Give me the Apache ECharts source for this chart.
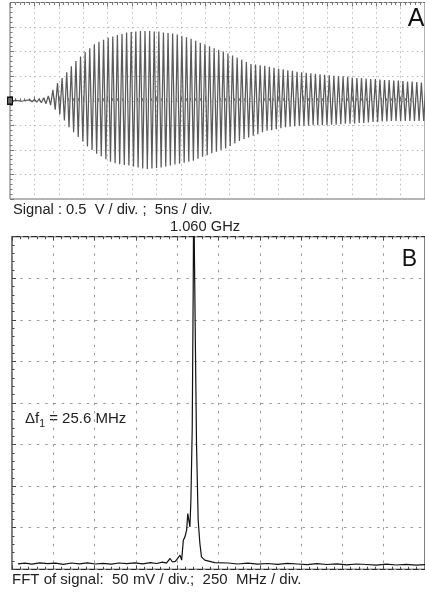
<!DOCTYPE html>
<html>
<head>
<meta charset="utf-8">
<script src="https://cdn.jsdelivr.net/npm/echarts@6/dist/echarts.min.js"></script>
<style>html,body{margin:0;padding:0;background:#fff;}#c{width:425px;height:595px;}</style>
</head>
<body>
<div id="c"></div>
<script>
// ---------- Panel A: time-domain signal (0.5 V/div, 5 ns/div) ----------
const signalFreqGHz = 1.060;               // carrier frequency (from FFT marker)
const burstStartNs = 4.07;                 // first visible cycle
const leadTimesNs = [0, 1.2, 2.4, 3.3];    // flat trace before the burst
const leadValuesV = [0, 0.01, -0.01, 0.01];
// positive peak of each cycle (V)
const sigTop = [0.02,0.03,0.04,0.06,0.10,0.22,0.36,0.46,0.58,0.70,
  0.81,0.90,0.99,1.07,1.15,1.20,1.24,1.28,1.31,1.34,
  1.36,1.39,1.40,1.41,1.42,1.42,1.42,1.41,1.41,1.39,
  1.38,1.37,1.35,1.32,1.29,1.26,1.22,1.18,1.15,1.11,
  1.07,1.04,1.00,0.96,0.92,0.88,0.84,0.79,0.75,0.74,
  0.72,0.71,0.69,0.67,0.65,0.64,0.62,0.61,0.59,0.58,
  0.57,0.56,0.55,0.54,0.53,0.52,0.51,0.50,0.50,0.49,
  0.47,0.46,0.46,0.45,0.44,0.44,0.43,0.42,0.42,0.41,
  0.41,0.40,0.39,0.39,0.38,0.37,0.37];
// negative trough of each cycle (V)
const sigBottom = [-0.02,-0.03,-0.04,-0.06,-0.09,-0.18,-0.28,-0.40,-0.54,-0.64,
  -0.74,-0.83,-0.93,-1.00,-1.08,-1.13,-1.19,-1.24,-1.27,-1.29,
  -1.31,-1.32,-1.34,-1.36,-1.38,-1.39,-1.38,-1.37,-1.36,-1.34,
  -1.32,-1.30,-1.28,-1.26,-1.24,-1.22,-1.18,-1.14,-1.11,-1.07,
  -1.04,-1.00,-0.97,-0.92,-0.87,-0.82,-0.78,-0.75,-0.71,-0.68,
  -0.64,-0.61,-0.60,-0.58,-0.56,-0.54,-0.53,-0.52,-0.51,-0.51,
  -0.51,-0.50,-0.50,-0.50,-0.50,-0.49,-0.49,-0.48,-0.47,-0.47,
  -0.46,-0.45,-0.45,-0.44,-0.43,-0.43,-0.42,-0.42,-0.41,-0.41,
  -0.41,-0.41,-0.41,-0.41,-0.41,-0.41,-0.41];

// ---------- Panel B: FFT (50 mV/div, 250 MHz/div) ----------
const fftFreqMHz = [36,78,120,168,216,264,312,360,408,456,504,552,600,647,695,743,791,839,875,911,935,
  957,971,989,1017,1027,1037,1047,1057,1064,1071,1077,1083,1091,1097,1100,1104,1109,1117,1127,1137,1147,1167,1227,1307,
  1367,1427,1487,1547,1607,1667,1727,1787,1846,1906,1966,2026,2086,2146,2206,2266,2326,2386,2446,2506];
const fftAmpMV = [6.5,7.5,6.2,7.8,6.8,7.4,6.0,7.6,6.6,7.8,6.4,7.2,6.2,7.6,6.8,7.8,6.6,8.0,7.0,8.6,7.4,
  13,8.8,9.5,17,11,35,39,47,67,69,51,83,170,340,460,460,290,150,59,31.6,15,11,8,7.6,
  6.4,7.4,6.2,7.0,6.0,7.2,6.4,5.6,6.8,5.8,6.6,5.4,6.4,5.8,5.0,6.2,5.2,6.0,5.0,5.6];

// tick scales
const voltDiv = 0.5, nsDiv = 5, mvDiv = 50, mhzDiv = 250;

// ---------- build series data ----------
const periodNs = 1 / signalFreqGHz;
const sigData = leadTimesNs.map((t, i) => [t, leadValuesV[i]]);
sigTop.forEach((v, i) => {
  const t = burstStartNs + i * periodNs;
  sigData.push([t, v]);
  sigData.push([t + periodNs / 2, sigBottom[i]]);
});
const fftData = fftFreqMHz.map((f, i) => [f, fftAmpMV[i]]);

const FONT = 'Liberation Sans, Arial, sans-serif';
function frameAxis(gridIndex, pos, showSplit, color, splitColor, dash) {
  return {
    type: 'value', gridIndex, position: pos,
    axisLine: { show: false }, axisLabel: { show: false },
    axisTick: { show: true, inside: true, length: 4, lineStyle: { color } },
    minorTick: { show: true, splitNumber: 5, length: 2.5, lineStyle: { color } },
    splitLine: { show: showSplit, lineStyle: { color: splitColor, type: dash, width: 1 } },
    minorSplitLine: { show: false }
  };
}

const chart = echarts.init(document.getElementById('c'), null, { renderer: 'canvas' });
const gridA = { left: 10, top: 2.5, width: 418.2, height: 196.5, show: true, borderColor: '#666', borderWidth: 1, backgroundColor: 'transparent' };
const gridB = { left: 12, top: 236.7, width: 417, height: 332.6, show: true, borderColor: '#2a2a2a', borderWidth: 1.2, backgroundColor: 'transparent' };

const xA = Object.assign(frameAxis(0, 'bottom', true, '#777', '#bbb', [1.5, 3.4]), { min: 0, max: 17 * nsDiv, interval: nsDiv });
const xAt = Object.assign(frameAxis(0, 'top', false, '#777', '#bbb', [1.5, 3.4]), { min: 0, max: 17 * nsDiv, interval: nsDiv });
const xB = Object.assign(frameAxis(1, 'bottom', true, '#444', '#999', [2.5, 5.8]), { min: 0, max: 10 * mhzDiv, interval: mhzDiv });
const xBt = Object.assign(frameAxis(1, 'top', false, '#444', '#999', [2.5, 5.8]), { min: 0, max: 10 * mhzDiv, interval: mhzDiv });
const yA = Object.assign(frameAxis(0, 'left', true, '#777', '#bbb', [1.5, 3.4]), { min: -4 * voltDiv, max: 4 * voltDiv, interval: voltDiv });
const yB = Object.assign(frameAxis(1, 'left', true, '#444', '#999', [2.5, 5.8]), { min: 0, max: 8 * mvDiv, interval: mvDiv });

chart.setOption({
  animation: false,
  grid: [gridA, gridB],
  xAxis: [xA, xAt, xB, xBt],
  yAxis: [yA, yB],
  series: [
    {
      type: 'line', xAxisIndex: 0, yAxisIndex: 0, data: sigData,
      showSymbol: false, smooth: false, sampling: null,
      lineStyle: { color: '#5a5a5a', width: 1.25 },
      markPoint: {
        symbol: 'rect', symbolSize: [5, 7], silent: true,
        itemStyle: { color: '#666', borderColor: '#111', borderWidth: 1.2 },
        label: { show: false },
        data: [{ coord: [0, 0] }]
      }
    },
    {
      type: 'line', xAxisIndex: 2, yAxisIndex: 1, data: fftData,
      showSymbol: false, smooth: false, clip: true,
      lineStyle: { color: '#111', width: 1.2 }
    }
  ],
  graphic: [
    { type: 'text', style: { text: 'A', x: 416, y: 19, font: '25px ' + FONT, fill: '#111', align: 'center', verticalAlign: 'middle' } },
    { type: 'text', style: { text: 'B', x: 409.5, y: 260, font: '23px ' + FONT, fill: '#111', align: 'center', verticalAlign: 'middle' } },
    { type: 'text', style: { text: 'Signal : 0.5  V / div. ;  5ns / div.', x: 13, y: 210, font: '14.7px ' + FONT, fill: '#222', align: 'left', verticalAlign: 'middle' } },
    { type: 'text', style: { text: '1.060 GHz', x: 205, y: 227, font: '14.7px ' + FONT, fill: '#222', align: 'center', verticalAlign: 'middle' } },
    { type: 'text', style: { text: 'FFT of signal:  50 mV / div.;  250  MHz / div.', x: 12, y: 580, font: '15px ' + FONT, fill: '#222', align: 'left', verticalAlign: 'middle' } },
    { type: 'text', style: {
        text: '{a|Δf}{s|1}{a| = 25.6 MHz}', x: 25, y: 419, align: 'left', verticalAlign: 'middle',
        rich: {
          a: { fontFamily: FONT, fontSize: 15, fill: '#222', color: '#222', lineHeight: 22 },
          s: { fontFamily: FONT, fontSize: 10.5, fill: '#222', color: '#222', lineHeight: 11, verticalAlign: 'bottom' }
        }
      } }
  ]
});
</script>
</body>
</html>
